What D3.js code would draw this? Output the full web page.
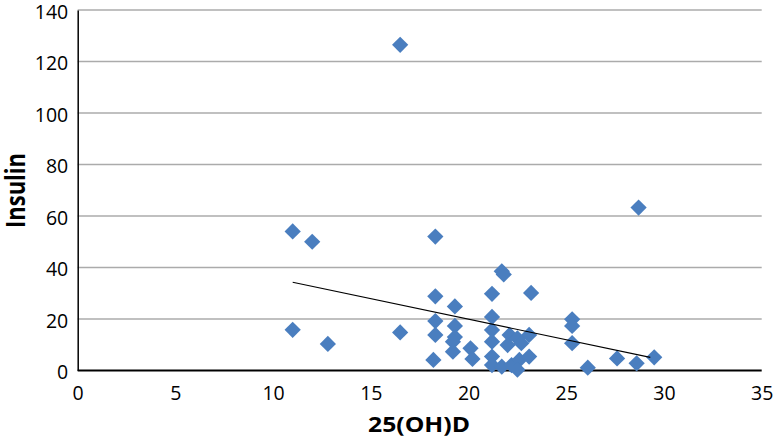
<!DOCTYPE html>
<html>
<head>
<meta charset="utf-8">
<script src="https://cdn.jsdelivr.net/npm/d3@7"></script>
<style>
  html, body { margin: 0; padding: 0; background: #fff; }
  svg { display: block; }
  text { font-family: "Open Sans", "Liberation Sans", sans-serif; fill: #000; }
</style>
</head>
<body>
<script>
// 25(OH)D values (x)
const vitD = [16.5, 28.7, 11.0, 12.0, 18.3, 21.7, 21.8, 21.2, 23.2, 18.3,
              19.3, 21.2, 25.3, 25.3, 25.3, 18.3, 18.3, 11.0, 12.8, 16.5,
              18.2, 19.3, 19.3, 19.2, 19.2, 20.1, 20.2, 21.2, 21.2, 22.1,
              22.5, 23.1, 22.0, 22.7, 21.2, 21.2, 21.7, 22.2, 22.6, 23.1,
              22.5, 26.1, 27.6, 28.6, 29.5];
// Insulin values (y)
const insulin = [126.5, 63.3, 54.0, 50.0, 52.0, 38.5, 37.3, 29.8, 30.1, 28.8,
                 24.9, 20.8, 19.9, 17.3, 10.6, 19.2, 13.8, 15.8, 10.3, 14.8,
                 4.1, 17.3, 13.0, 11.2, 7.3, 8.6, 4.5, 15.7, 11.2, 13.8,
                 12.5, 13.8, 9.9, 10.6, 5.4, 2.1, 1.5, 2.1, 4.1, 5.4,
                 0.3, 1.1, 4.7, 2.8, 5.1];
// Linear trendline endpoints
const trendX = [11.0, 29.3];
const trendY = [34.3, 5.1];
const xTicks = [0, 5, 10, 15, 20, 25, 30, 35];
const yTicks = [0, 20, 40, 60, 80, 100, 120, 140];

const W = 774, H = 441;
const svg = d3.select("body").append("svg").attr("width", W).attr("height", H);

const x = d3.scaleLinear().domain([0, 35]).range([77.7, 761.7]);
const y = d3.scaleLinear().domain([0, 140]).range([370.5, 10]);

// gridlines
svg.append("g")
  .selectAll("line")
  .data(yTicks.filter(d => d > 0))
  .join("line")
  .attr("x1", x(0)).attr("x2", x(35))
  .attr("y1", d => y(d)).attr("y2", d => y(d))
  .attr("stroke", "#ababab").attr("stroke-width", 1.3);

// y axis
const yAxis = svg.append("g")
  .attr("transform", `translate(${x(0)},0)`)
  .call(d3.axisLeft(y).tickValues(yTicks).tickSize(0).tickPadding(9.5));
yAxis.select(".domain").attr("stroke", "#000").attr("stroke-width", 1.5);
yAxis.selectAll("text").attr("font-size", 19.5).attr("dy", "0.42em")
  .attr("font-family", "Open Sans, sans-serif");

// x axis
const xAxis = svg.append("g")
  .attr("transform", `translate(0,${y(0)})`)
  .call(d3.axisBottom(x).tickValues(xTicks).tickSize(0).tickPadding(15.5));
xAxis.select(".domain").attr("stroke", "#000").attr("stroke-width", 2)
  .attr("d", `M${x(0)},0H${x(35)}`);
xAxis.selectAll("text").attr("font-size", 19.5)
  .attr("font-family", "Open Sans, sans-serif");

// points
const pts = vitD.map((v, i) => ({ x: v, y: insulin[i] }));
const diamond = d3.symbol().type(d3.symbolSquare).size(132);
svg.append("g")
  .selectAll("path")
  .data(pts)
  .join("path")
  .attr("d", diamond)
  .attr("transform", d => `translate(${x(d.x)},${y(d.y)}) rotate(45)`)
  .attr("fill", "#4a7ebf");

// trendline
svg.append("path")
  .datum(trendX.map((v, i) => ({ x: v, y: trendY[i] })))
  .attr("d", d3.line().x(d => x(d.x)).y(d => y(d.y)))
  .attr("stroke", "#000").attr("stroke-width", 1.1).attr("fill", "none");

// axis titles
svg.append("text")
  .attr("x", 419).attr("y", 432)
  .attr("text-anchor", "middle")
  .attr("font-size", 22).attr("font-weight", "bold")
  .attr("textLength", 102).attr("lengthAdjust", "spacingAndGlyphs")
  .text("25(OH)D");

svg.append("text")
  .attr("transform", `translate(25,190.5) rotate(-90)`)
  .attr("text-anchor", "middle")
  .attr("font-size", 26).attr("font-weight", "bold")
  .attr("textLength", 75).attr("lengthAdjust", "spacingAndGlyphs")
  .text("Insulin");
</script>
</body>
</html>
